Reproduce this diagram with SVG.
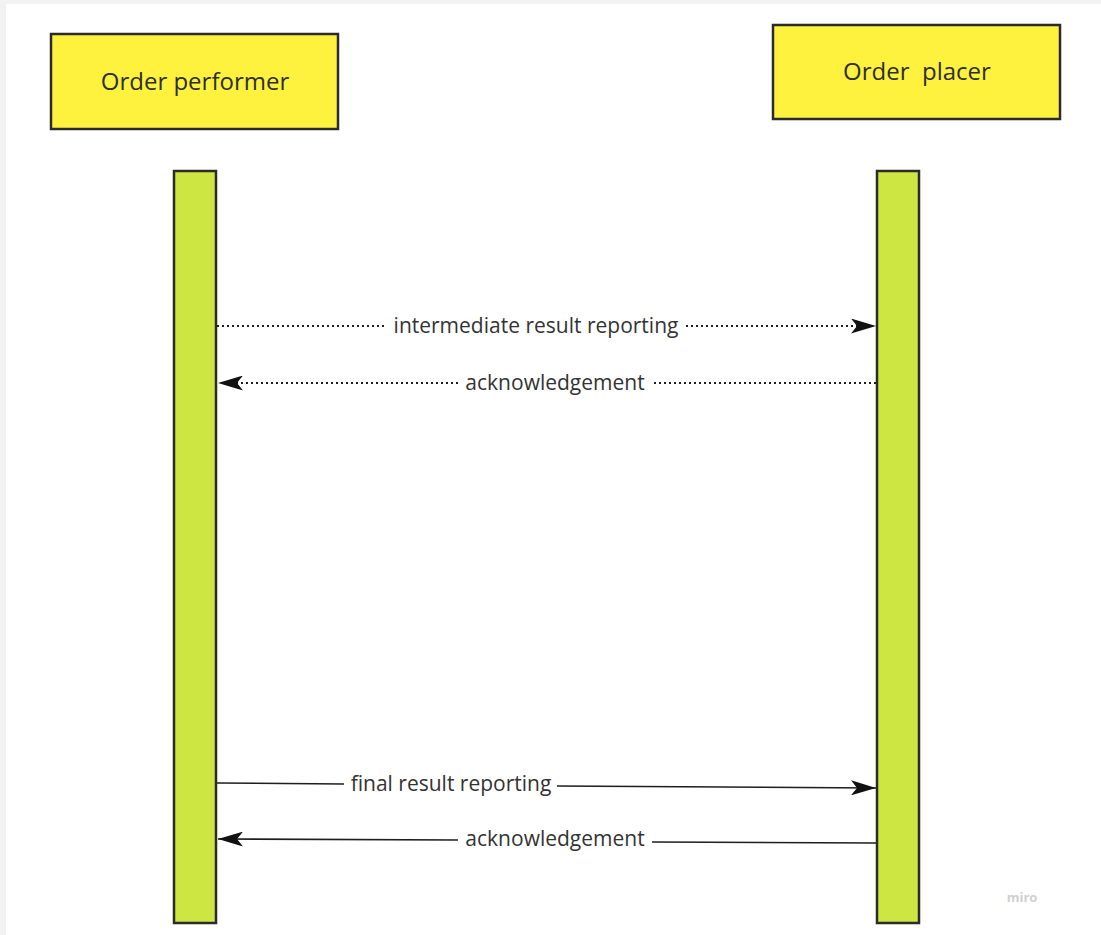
<svg xmlns="http://www.w3.org/2000/svg" width="1101" height="935" viewBox="0 0 1101 935">
  <defs>
    <style>
      .actor { fill: #fff23f; stroke: #2b2b2b; stroke-width: 2.5; }
      .life { fill: #cde642; stroke: #2b2b2b; stroke-width: 2.5; }
      .title { font-family: "Open Sans", "Noto Sans", sans-serif; font-size: 24px; fill: #2e2e2e; text-anchor: middle; dominant-baseline: central; }
      .lbl { font-family: "Open Sans", "Noto Sans", sans-serif; font-size: 21px; fill: #333; text-anchor: middle; dominant-baseline: central; }
      .msg { fill: none; stroke: #1e1e1e; stroke-width: 1.6; }
      .dotted { stroke-dasharray: 2 3; stroke-width: 2; }
      .bg { fill: #ffffff; }
    </style>
    <marker id="arrow" viewBox="0 0 25 15" refX="25" refY="7.5" markerWidth="25" markerHeight="15" markerUnits="userSpaceOnUse" orient="auto">
      <path d="M0,0 L25,7.5 L0,15 L6,7.5 Z" fill="#111"/>
    </marker>
  </defs>

  <!-- canvas -->
  <rect x="0" y="0" width="1101" height="935" fill="#f2f2f2"/>
  <rect class="bg" x="6" y="4" width="1095" height="931"/>

  <!-- actors -->
  <g id="order-performer">
    <rect class="actor" x="51" y="34" width="287" height="95"/>
    <text class="title" x="195" y="80">Order performer</text>
  </g>
  <g id="order-placer">
    <rect class="actor" x="773" y="25" width="287" height="94"/>
    <text class="title" x="917" y="70" xml:space="preserve">Order  placer</text>
  </g>

  <!-- lifelines -->
  <g id="performer-lifeline">
    <rect class="life" x="174" y="171" width="42" height="752"/>
  </g>
  <g id="placer-lifeline">
    <rect class="life" x="877" y="171" width="42" height="752"/>
  </g>

  <!-- messages -->
  <g id="connectors">
    <path class="msg dotted" d="M217,326 L385,326"/>
    <path class="msg dotted" d="M686,326 L876,326" marker-end="url(#arrow)"/>
    <path class="msg dotted" d="M876,383 L652,383"/>
    <path class="msg dotted" d="M458,383 L218,383" marker-end="url(#arrow)"/>
    <path class="msg" d="M217,783 L344,784"/>
    <path class="msg" d="M557,786 L876,788" marker-end="url(#arrow)"/>
    <path class="msg" d="M876,843 L652,842"/>
    <path class="msg" d="M458,840 L218,839" marker-end="url(#arrow)"/>
  </g>

  <g id="labels">
    <text class="lbl" x="536" y="325">intermediate result reporting</text>
    <text class="lbl" x="555" y="382">acknowledgement</text>
    <text class="lbl" x="451" y="783">final result reporting</text>
    <text class="lbl" x="555" y="838">acknowledgement</text>
  </g>

  <text x="1022" y="897" font-family="Open Sans, sans-serif" font-size="13" font-weight="bold" fill="#d0d0d0" text-anchor="middle" dominant-baseline="central">miro</text>
</svg>
